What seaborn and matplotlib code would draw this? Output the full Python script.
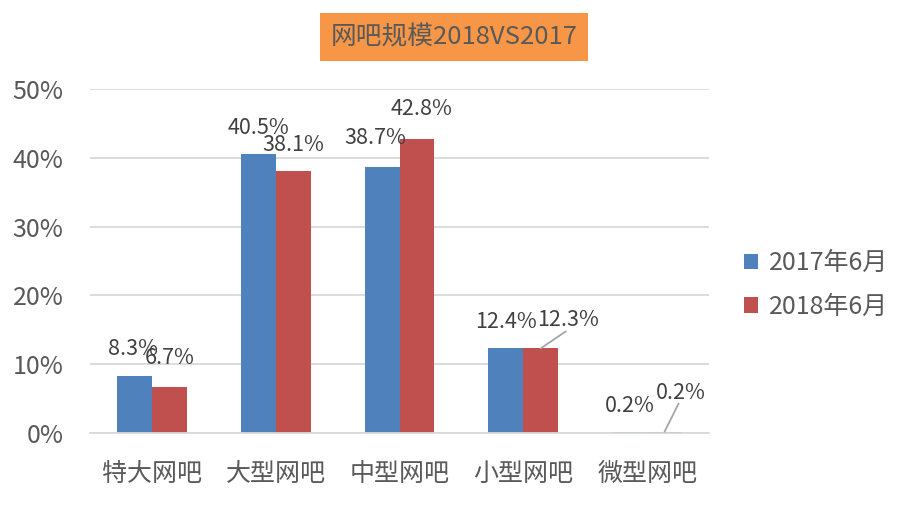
import matplotlib
matplotlib.use("Agg")
import matplotlib.pyplot as plt
import seaborn as sns
import pandas as pd

categories = ["特大网吧", "大型网吧", "中型网吧", "小型网吧", "微型网吧"]
series_names = ["2017年6月", "2018年6月"]
values_2017 = [8.3, 40.5, 38.7, 12.4, 0.2]
values_2018 = [6.7, 38.1, 42.8, 12.3, 0.2]
y_ticks = [0, 10, 20, 30, 40, 50]
title = "网吧规模2018VS2017"

# label offsets in pixels (dx, dy) relative to bar top centre, and leader flag
label_offsets = {
    "2017年6月": [(-1, 27), (0, 26), (-7, 29), (0, 26), (0, 26)],
    "2018年6月": [(0, 29), (0, 26), (5, 30), (27, 28), (16, 39)],
}
leaders = {
    "2017年6月": [False] * 5,
    "2018年6月": [False, False, False, True, True],
}

df = pd.DataFrame({
    "cat": categories * 2,
    "series": [series_names[0]] * 5 + [series_names[1]] * 5,
    "val": values_2017 + values_2018,
})

sns.set_theme(style="white")
plt.rcParams["font.family"] = ["Noto Sans CJK SC", "DejaVu Sans"]

W, H, DPI = 909, 508, 100
fig = plt.figure(figsize=(W / DPI, H / DPI), dpi=DPI)
ax = fig.add_axes([90 / W, 1 - 433 / H, (709 - 90) / W, (433 - 89) / H])

palette = {"2017年6月": "#4F81BD", "2018年6月": "#C0504D"}
sns.barplot(data=df, x="cat", y="val", hue="series", palette=palette,
            width=0.565, saturation=1, ax=ax, legend=True, linewidth=0)

ax.set_xlim(-0.5, 4.5)
ax.set_ylim(0, 50)
ax.set_yticks(y_ticks)
ax.set_yticklabels([f"{t}%" for t in y_ticks])
ax.set_xlabel("")
ax.set_ylabel("")
ax.grid(axis="y", color="#D9D9D9", linewidth=1.3)
ax.set_axisbelow(True)
for s in ["left", "right", "top"]:
    ax.spines[s].set_visible(False)
ax.spines["bottom"].set_color("#D9D9D9")
ax.spines["bottom"].set_linewidth(1.3)
ax.tick_params(axis="both", length=0, labelsize=18, colors="#595959")
ax.tick_params(axis="x", pad=20)
ax.tick_params(axis="y", pad=19)

for container, name in zip(ax.containers, series_names):
    for i, bar in enumerate(container.patches):
        cx = bar.get_x() + bar.get_width() / 2
        top = bar.get_height()
        dx, dy = label_offsets[name][i]
        ax.annotate(f"{top:.1f}%", xy=(cx, top), xytext=(dx, dy),
                    textcoords="offset pixels", ha="center", va="center",
                    fontsize=15.5, color="#404040")
        if leaders[name][i]:
            ax.annotate("", xy=(cx, top), xytext=(dx - 2, dy - 11),
                        textcoords="offset pixels",
                        arrowprops=dict(arrowstyle="-", color="#A6A6A6", lw=1.3,
                                        shrinkA=0, shrinkB=0))

leg = ax.legend(loc="center left", bbox_to_anchor=(1.02, 0.43), frameon=False,
                fontsize=18, handlelength=0.55, handleheight=0.55,
                handletextpad=0.45, labelspacing=0.7)
for t in leg.get_texts():
    t.set_color("#595959")

fig.text(454 / W, 1 - 37 / H, title, ha="center", va="center", fontsize=18.5,
         color="#595959",
         bbox=dict(boxstyle="square,pad=0.42", facecolor="#F79646", edgecolor="none"))

fig.savefig("out.png", dpi=DPI)
